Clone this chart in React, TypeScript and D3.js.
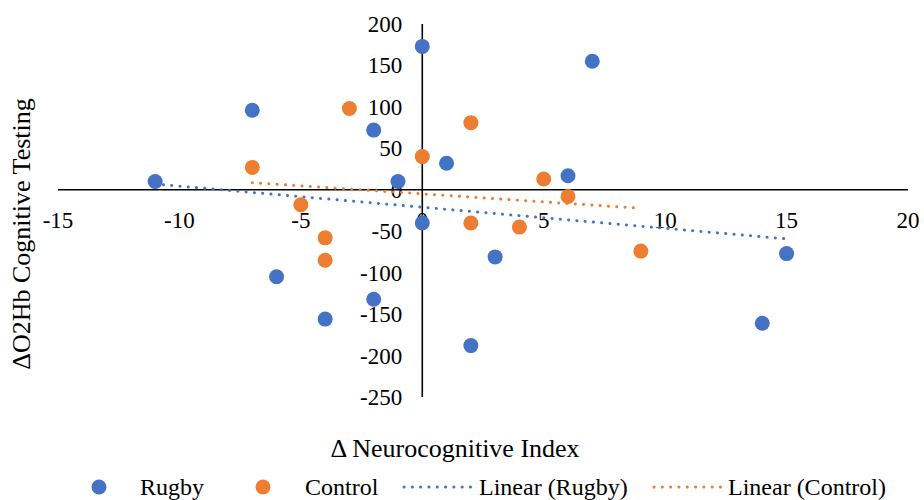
import * as d3 from 'd3';

// Δ Neurocognitive Index (x) vs ΔO2Hb during cognitive testing (y)
const rugbyX = [-11, -7, -2, 0, 1, -1, 0, 7, 6, -6, -2, -4, 3, 2, 14, 15];
const rugbyY = [10, 96, 72, 173, 32, 10, -40, 155, 17, -105, -132, -156, -81, -188, -161, -77];

const controlX = [-3, -7, -5, -4, 0, 2, 5, 6, 2, 4, 9, -4];
const controlY = [98, 27, -18, -58, 40, 81, 13, -8, -40, -45, -74, -85];

const xTicks = [-15, -10, -5, 0, 5, 10, 15, 20];
const yTicks = [200, 150, 100, 50, 0, -50, -100, -150, -200, -250];

const BLUE = '#4472C4';
const ORANGE = '#ED7D31';
const FONT = 'Liberation Serif, Tinos, DejaVu Serif, serif';

const W = 924;
const H = 500;

// least-squares line, drawn over the range of the data like Excel's linear trendline
function linearFit(xs: number[], ys: number[]) {
  const mx = d3.mean(xs)!;
  const my = d3.mean(ys)!;
  const sxy = d3.sum(xs, (x, i) => (x - mx) * (ys[i] - my));
  const sxx = d3.sum(xs, x => (x - mx) ** 2);
  const slope = sxy / sxx;
  const b = my - slope * mx;
  const [x0, x1] = d3.extent(xs) as [number, number];
  return [
    [x0, slope * x0 + b],
    [x1, slope * x1 + b],
  ] as [number, number][];
}

export default function App() {
  const x = d3.scaleLinear().domain([-15, 20]).range([58, 908]);
  const y = d3.scaleLinear().domain([-250, 200]).range([397, 24]);

  const line = d3.line<[number, number]>()
    .x(d => x(d[0]))
    .y(d => y(d[1]));

  const series = [
    { name: 'Rugby', xs: rugbyX, ys: rugbyY, color: BLUE },
    { name: 'Control', xs: controlX, ys: controlY, color: ORANGE },
  ];

  const dotted = { strokeWidth: 3, strokeLinecap: 'round' as const, strokeDasharray: '0.1 8.2' };

  return (
    <svg
      width={W}
      height={H}
      fontFamily={FONT}
      style={{ position: 'absolute', left: 0, top: 0, background: '#fff' }}
    >
      {/* axes */}
      <line x1={x(-15)} x2={x(20)} y1={y(0)} y2={y(0)} stroke="#000" strokeWidth={1.6} />
      <line x1={x(0)} x2={x(0)} y1={y(200)} y2={y(-250)} stroke="#000" strokeWidth={1.6} />

      {xTicks.map(t => (
        <text key={`x${t}`} x={x(t)} y={y(0) + 38} textAnchor="middle" fontSize={23} fill="#000">
          {t}
        </text>
      ))}
      {yTicks.map(t => (
        <text key={`y${t}`} x={x(0) - 20} y={y(t)} dy="0.35em" textAnchor="end" fontSize={23} fill="#000">
          {t}
        </text>
      ))}

      {/* trendlines */}
      {series.map(s => (
        <path
          key={`fit-${s.name}`}
          d={line(linearFit(s.xs, s.ys)) || ''}
          fill="none"
          stroke={s.color}
          {...dotted}
        />
      ))}

      {/* points */}
      {series.map(s =>
        s.xs.map((v, i) => (
          <circle key={`${s.name}-${i}`} cx={x(v)} cy={y(s.ys[i])} r={7.5} fill={s.color} />
        ))
      )}

      {/* axis titles */}
      <text x={455} y={457} textAnchor="middle" fontSize={26} fill="#000">
        Δ Neurocognitive Index
      </text>
      <text
        transform={`translate(30, 234) rotate(-90)`}
        textAnchor="middle"
        fontSize={26}
        fill="#000"
      >
        ΔO2Hb Cognitive Testing
      </text>

      {/* legend */}
      <g fontSize={24} fill="#000">
        <circle cx={99} cy={487} r={7.5} fill={BLUE} />
        <text x={140} y={495}>Rugby</text>
        <circle cx={263} cy={487} r={7.5} fill={ORANGE} />
        <text x={305} y={495}>Control</text>
        <line x1={404} x2={471} y1={487} y2={487} stroke={BLUE} {...dotted} />
        <text x={479} y={495}>Linear (Rugby)</text>
        <line x1={654} x2={721} y1={487} y2={487} stroke={ORANGE} {...dotted} />
        <text x={728} y={495}>Linear (Control)</text>
      </g>
    </svg>
  );
}
